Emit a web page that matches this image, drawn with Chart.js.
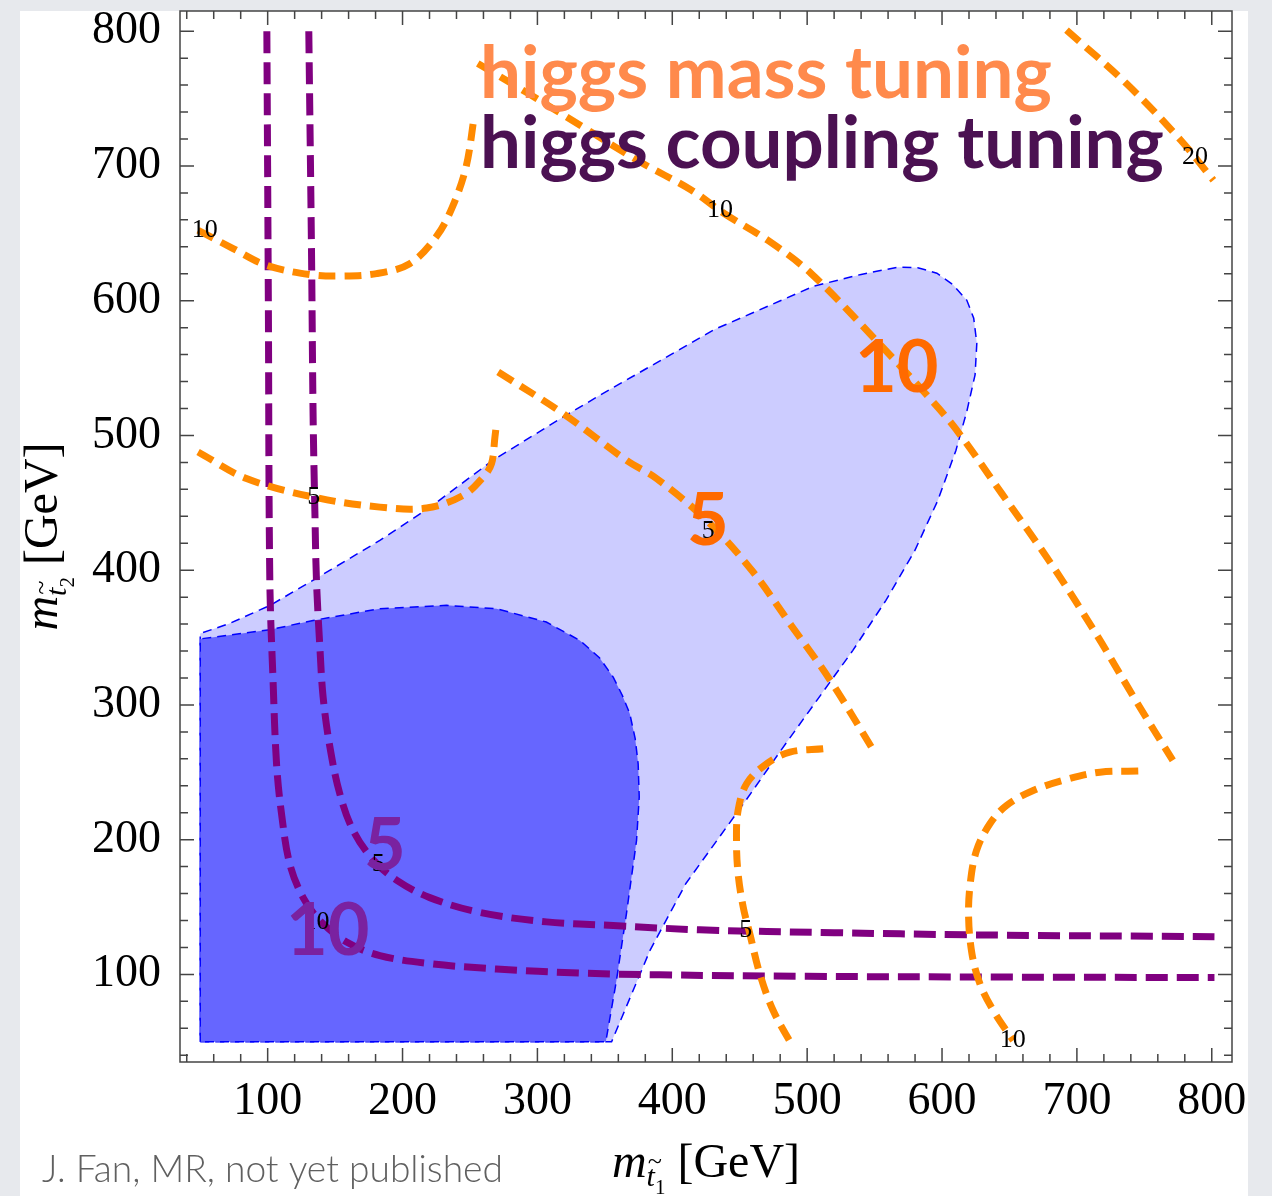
<!DOCTYPE html>
<html>
<head>
<meta charset="utf-8">
<script src="https://cdn.jsdelivr.net/npm/chart.js@4.4.0/dist/chart.umd.min.js"></script>
<style>
  html, body { margin: 0; padding: 0; background: #e7e9ed; }
  #panel { position: absolute; left: 20px; top: 11px; width: 1228px; height: 1185px; background: #fff; }
  #wrap { position: absolute; left: 0; top: 0; width: 1272px; height: 1196px; }
</style>
</head>
<body>
<div id="panel"></div>
<div id="wrap"><canvas id="chart" width="1272" height="1196"></canvas></div>
<script>
// axis ticks (GeV)
const tickValues = [100, 200, 300, 400, 500, 600, 700, 800];

// allowed regions, [m_t1, m_t2]
const lightRegion = [
  [50, 50], [355, 50], [383.4, 117.7], [410.1, 167.5], [454.5, 229.1], [480.5, 266.2],
  [507.2, 303.4], [533.9, 340.5], [558.4, 377.6], [579.9, 414.7], [596.9, 451.8],
  [610.3, 488.9], [618.4, 517.9],
  [624.5, 545], [625.8, 568.4], [623.5, 587], [618.4, 600.3], [608, 612], [596.2, 620.4],
  [582, 624.5], [567.3, 624.9], [540, 619.5], [505, 610.8], [431.6, 578.8], [346.3, 529.8],
  [318.8, 513.5], [266.9, 481.5], [220.2, 446.6], [183.2, 422.1], [133.5, 392.4],
  [101.6, 373.8], [71.9, 360.5], [50, 353], [50, 50]
];
const darkRegion = [
  [50, 50], [50, 349], [101.6, 355.8], [133.7, 362.7], [183, 371.4], [232.6, 373.9],
  [269.7, 371.4], [306.6, 361.5], [331.5, 347.9], [346, 335], [356.2, 320.6], [363, 307],
  [368.5, 293.5], [372.5, 275], [374.7, 256.3], [375.5, 231.6], [373.5, 199.4], [366, 145],
  [358.6, 95.5], [350.7, 50], [50, 50]
];

// higgs coupling tuning contours
const coupling10 = [
  [99.4, 800], [100.5, 600], [101.6, 392], [104, 318], [106.6, 256], [110.3, 219],
  [116.4, 182], [126.3, 157], [138.7, 140], [158.5, 124], [183.2, 114], [220.2, 108],
  [269.7, 104], [331.5, 101], [390.8, 99.7], [500, 98.6], [650, 98], [802, 97.7]
];
const coupling5 = [
  [130.5, 800], [132.5, 637], [133.7, 514], [135, 444], [136.2, 392], [138.7, 343],
  [141.1, 306], [146.1, 269], [153.5, 234], [163.3, 207], [178.2, 185], [195.5, 170],
  [220.2, 157], [257.3, 146], [306.8, 139], [356.2, 136.3], [420.4, 133.1], [520, 131],
  [618.1, 129.4], [802, 128]
];

// higgs mass tuning contours
const mass10a = [
  [48.4, 652.3], [74.4, 638.7], [99.1, 626.3], [131.2, 619.4], [153.5, 618.3], [180.7, 620.1],
  [205.3, 627.5], [224.9, 647.3], [237, 669.6], [247.1, 699.3], [253.1, 736.4]
];
const mass10b = [
  [255.8, 776], [293.4, 753.7], [333.7, 729], [374, 704.2], [414.3, 682], [438.5, 664.7],
  [470.7, 644.9], [503, 620.1], [550.6, 571.1], [587.5, 531.3], [610.2, 504.8], [644.2, 457],
  [681.2, 404.3], [715.2, 351.1], [743.6, 303.3], [771.1, 258.8]
];
const mass20 = [[692.3, 800.8], [736.7, 761.2], [777, 719.1], [801.2, 689.4]];
const mass5a = [
  [48.4, 487.7], [84.3, 468], [133.7, 454.3], [183.2, 446.8], [217.8, 446.1], [244.9, 455.5],
  [259.8, 469.1], [266, 479.1], [268.5, 498.8], [269.8, 510]
];
const mass5b = [
  [270.9, 547.1], [319.1, 516.2], [366.1, 481.5], [388.8, 467.7], [426.6, 435.9],
  [459.8, 398.8], [488.2, 359], [516.5, 319.2], [549.2, 266.2]
];
const mass5c = [
  [511.9, 267.4], [487.2, 265], [469.9, 256.3], [455.1, 241.5], [448.8, 221.7], [447.6, 199.4],
  [448.8, 174.7], [452.6, 149.9], [457.5, 130.1], [464.9, 100.4], [474.8, 73.2], [489.6, 46]
];
const mass10c = [
  [745.5, 250.9], [717.1, 250.1], [692.3, 244.7], [667.6, 236.5], [647.8, 225.4], [635.5, 211.8],
  [625.6, 192], [620.9, 167.3], [619.7, 142.5], [622.2, 115.3], [628.1, 93], [638, 73.2],
  [652.8, 50.9]
];

// small contour labels
const contourLabelText = ['10', '10', '20', '5', '5', '5', '10', '5', '10'];
const contourLabelPos = [
  [53.4, 652], [435.3, 667], [787.5, 706.4], [134.2, 454], [426.6, 428.6],
  [181.9, 182.1], [136.2, 138.8], [454.5, 132.5], [652.5, 50.9]
];

// big labels
const bigLabelText = ['10', '5', '5', '10'];
const bigLabelPos = [[566.5, 551.9], [426.4, 438.1], [186.9, 197.2], [144.6, 134]];
const bigLabelColor = ['#ff6a00', '#ff6a00', '#7a22a0', '#7a22a0'];

const ORANGE = '#ff8a00';
const PURPLE = '#800080';

const pts = arr => arr.map(([x, y]) => ({ x, y }));

function contour(data, color, dash, order) {
  return {
    data: pts(data), borderColor: color, borderWidth: 7, borderDash: dash,
    borderCapStyle: 'butt', pointRadius: 0, fill: false, tension: 0.35, order
  };
}

const datasets = [
  contour(mass10a, ORANGE, [17, 9], 1),
  contour(mass10b, ORANGE, [17, 9], 1),
  contour(mass20, ORANGE, [17, 9], 1),
  contour(mass5a, ORANGE, [17, 9], 1),
  contour(mass5b, ORANGE, [17, 9], 1),
  contour(mass5c, ORANGE, [17, 9], 1),
  contour(mass10c, ORANGE, [17, 9], 1),
  contour(coupling10, PURPLE, [22, 9], 2),
  contour(coupling5, PURPLE, [22, 9], 2),
  {
    data: pts(darkRegion), borderColor: '#0000ff', borderWidth: 1.5, borderDash: [9, 6],
    backgroundColor: '#6666ff', fill: 'shape', pointRadius: 0, tension: 0, order: 3
  },
  {
    data: pts(lightRegion), borderColor: '#0000ff', borderWidth: 1.5, borderDash: [9, 6],
    backgroundColor: '#ccccff', fill: 'shape', pointRadius: 0, tension: 0, order: 4
  }
];

function fitSize(ctx, text, weight, family, target) {
  ctx.font = `${weight} 100px ${family}`;
  return 100 * target / ctx.measureText(text).width;
}

const framePlugin = {
  id: 'frame',
  afterDatasetsDraw(chart) {
    const { ctx, chartArea: a, scales: { x, y } } = chart;
    ctx.save();
    ctx.strokeStyle = '#444';
    ctx.lineWidth = 1.5;
    ctx.strokeRect(a.left, a.top, a.right - a.left, a.bottom - a.top);
    ctx.beginPath();
    for (let v = 40; v <= 800; v += 20) {
      const len = v % 100 === 0 ? 14 : 8;
      const px = x.getPixelForValue(v), py = y.getPixelForValue(v);
      ctx.moveTo(px, a.bottom); ctx.lineTo(px, a.bottom - len);
      ctx.moveTo(px, a.top); ctx.lineTo(px, a.top + len);
      ctx.moveTo(a.left, py); ctx.lineTo(a.left + len, py);
      ctx.moveTo(a.right, py); ctx.lineTo(a.right - len, py);
    }
    ctx.stroke();
    ctx.restore();
  }
};

// m with a tilde-t subscript, then [GeV]
function drawMassTitle(ctx, idx) {
  const parts = [
    { t: 'm', font: 'italic 48px "Liberation Serif"', dy: 0 },
    { t: 't', font: 'italic 30px "Liberation Serif"', dy: 9, tilde: true },
    { t: idx, font: '21px "Liberation Serif"', dy: 17 },
    { t: ' [GeV]', font: '48px "Liberation Serif"', dy: 0 }
  ];
  let w = 0;
  parts.forEach(p => { ctx.font = p.font; p.w = ctx.measureText(p.t).width; w += p.w; });
  let cx = -w / 2;
  parts.forEach(p => {
    ctx.font = p.font;
    ctx.fillText(p.t, cx, p.dy);
    if (p.tilde) {
      ctx.font = 'italic 26px "Liberation Serif"';
      ctx.fillText('~', cx + 1, p.dy - 17);
    }
    cx += p.w;
  });
}

const labelPlugin = {
  id: 'labels',
  afterDraw(chart) {
    const { ctx, chartArea: a, scales: { x, y } } = chart;
    ctx.save();
    ctx.textAlign = 'center';
    ctx.textBaseline = 'middle';

    ctx.fillStyle = '#000';
    ctx.font = '26px "Liberation Serif"';
    contourLabelText.forEach((t, i) => {
      const [vx, vy] = contourLabelPos[i];
      ctx.fillText(t, x.getPixelForValue(vx), y.getPixelForValue(vy));
    });

    ctx.font = 'bold 72px Lato';
    bigLabelText.forEach((t, i) => {
      const [vx, vy] = bigLabelPos[i];
      ctx.fillStyle = bigLabelColor[i];
      ctx.fillText(t, x.getPixelForValue(vx), y.getPixelForValue(vy) + 3);
    });

    // legend
    ctx.textAlign = 'left';
    ctx.textBaseline = 'alphabetic';
    const s1 = fitSize(ctx, 'higgs mass tuning', 'bold', 'Lato', 572);
    ctx.font = `bold ${s1}px Lato`;
    ctx.fillStyle = '#ff8a4c';
    ctx.fillText('higgs mass tuning', 480, 98);
    const s2 = fitSize(ctx, 'higgs coupling tuning', 'bold', 'Lato', 684);
    ctx.font = `bold ${s2}px Lato`;
    ctx.fillStyle = '#4b1152';
    ctx.fillText('higgs coupling tuning', 480, 168);

    // axis titles
    ctx.fillStyle = '#000';
    ctx.save();
    ctx.translate((a.left + a.right) / 2, 1177);
    drawMassTitle(ctx, '1');
    ctx.restore();
    ctx.save();
    ctx.translate(57, (a.top + a.bottom) / 2);
    ctx.rotate(-Math.PI / 2);
    drawMassTitle(ctx, '2');
    ctx.restore();

    // credit
    const s3 = fitSize(ctx, 'J. Fan, MR, not yet published', '300', 'Lato', 461);
    ctx.font = `300 ${s3}px Lato`;
    ctx.fillStyle = '#606060';
    ctx.fillText('J. Fan, MR, not yet published', 42, 1182);
    ctx.restore();
  }
};

const tickFont = { family: 'Liberation Serif', size: 46 };

new Chart(document.getElementById('chart'), {
  type: 'line',
  data: { datasets },
  options: {
    responsive: false,
    animation: false,
    layout: { padding: { top: 11, right: 40, left: 0, bottom: 0 } },
    plugins: { legend: { display: false }, tooltip: { enabled: false } },
    scales: {
      x: {
        type: 'linear', min: 35, max: 815,
        grid: { display: false }, border: { display: false },
        afterBuildTicks: s => { s.ticks = tickValues.map(v => ({ value: v })); },
        afterFit: s => { s.height = 134; s.paddingLeft = 0; s.paddingRight = 0; },
        ticks: { font: tickFont, color: '#000', padding: 4, maxRotation: 0, autoSkip: false }
      },
      y: {
        type: 'linear', min: 35, max: 815,
        grid: { display: false }, border: { display: false },
        afterBuildTicks: s => { s.ticks = tickValues.map(v => ({ value: v })); },
        afterFit: s => { s.width = 180; s.paddingTop = 0; s.paddingBottom = 0; },
        ticks: { font: tickFont, color: '#000', padding: 11, autoSkip: false }
      }
    }
  },
  plugins: [framePlugin, labelPlugin]
});
</script>
</body>
</html>
